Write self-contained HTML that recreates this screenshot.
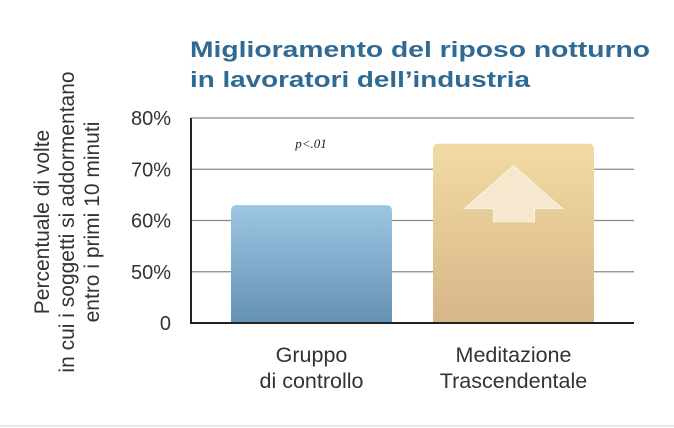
<!DOCTYPE html>
<html><head><meta charset="utf-8">
<style>
html,body{margin:0;padding:0;background:#fff;}
svg{display:block;}
text{font-family:"Liberation Sans",sans-serif;}
</style></head>
<body>
<svg id="chart" width="674" height="428" viewBox="0 0 674 428" xmlns="http://www.w3.org/2000/svg">
<defs>
<linearGradient id="gBlue" x1="0" y1="0" x2="0" y2="1"><stop offset="0" stop-color="#9dc6e2"/><stop offset="1" stop-color="#6591b4"/></linearGradient>
<linearGradient id="gGold" x1="0" y1="0" x2="0" y2="1"><stop offset="0" stop-color="#f1dba4"/><stop offset="1" stop-color="#d7b688"/></linearGradient>
</defs>
<text x="190" y="57" font-size="22.5" font-weight="bold" fill="#2f6a95" textLength="460" lengthAdjust="spacingAndGlyphs">Miglioramento del riposo notturno</text>
<text x="190" y="87" font-size="22.5" font-weight="bold" fill="#2f6a95" textLength="340" lengthAdjust="spacingAndGlyphs">in lavoratori dell’industria</text>
<g transform="translate(68,222) rotate(-90)" font-size="21" fill="#333" text-anchor="middle">
<text x="0" y="-19">Percentuale di volte</text>
<text x="0" y="6">in cui i soggetti si addormentano</text>
<text x="0" y="31">entro i primi 10 minuti</text>
</g>
<g id="grid"></g>
<g id="bars"></g>
<g id="ticks"></g>
<text x="311" y="148" style="font-family:'Liberation Serif',serif;font-style:italic;font-size:13px" fill="#222" text-anchor="middle">p&lt;.01</text>
<line x1="191" y1="118" x2="191" y2="324" stroke="#222" stroke-width="2"/>
<line x1="190" y1="323" x2="634" y2="323" stroke="#222" stroke-width="2"/>
<line x1="0" y1="426" x2="674" y2="426" stroke="#e3e8ee" stroke-width="2"/>
</svg>
<script>
const categories = ["Gruppo|di controllo", "Meditazione|Trascendentale"];
const values = [63, 75];
const tickValues = [40, 50, 60, 70, 80];
const tickLabels = ["0", "50%", "60%", "70%", "80%"];

const NS = "http://www.w3.org/2000/svg";
const y = v => 323 - (v - 40) * 5.125;
const x = i => 231 + i * 202;
const bw = 161;
function mk(tag, attrs, parent){const e=document.createElementNS(NS,tag);for(const k in attrs)e.setAttribute(k,attrs[k]);parent.appendChild(e);return e;}
const grid=document.getElementById('grid'), bars=document.getElementById('bars'), ticks=document.getElementById('ticks');
tickValues.forEach((t,i)=>{
  if(i>0){const l=mk('line',{x1:191,x2:634,y1:y(t),y2:y(t),stroke:'#8a8a8a','stroke-width':1.3},grid);
  
  }
  const tx=mk('text',{x:171,y:y(t)+7,'font-size':20,fill:'#333','text-anchor':'end'},ticks);
  tx.textContent=tickLabels[i];
  
  
});
values.forEach((v,i)=>{
  const top=y(v), x0=x(i);
  const p=mk('path',{d:`M${x0},323 L${x0},${top+6} Q${x0},${top} ${x0+6},${top} L${x0+bw-6},${top} Q${x0+bw},${top} ${x0+bw},${top+6} L${x0+bw},323 Z`,fill:i?'url(#gGold)':'url(#gBlue)'},bars);
  
  
  const lines=categories[i].split('|');
  lines.forEach((s,j)=>{
    const t=mk('text',{x:x0+bw/2,y:362+j*26,'font-size':21.5,fill:'#333','text-anchor':'middle'},bars);
    t.textContent=s;
    
    
  });
  if(i===1){
    const cx=x0+bw/2, ty=top+22;
    const a=mk('polygon',{points:`${cx},${ty} ${cx+49},${ty+43} ${cx+21},${ty+43} ${cx+21},${ty+56} ${cx-20},${ty+56} ${cx-20},${ty+43} ${cx-49},${ty+43}`,fill:'#f5e8cf',stroke:'#fbf3e3','stroke-width':1},bars);
    
    
  }
});
</script>
</body></html>
